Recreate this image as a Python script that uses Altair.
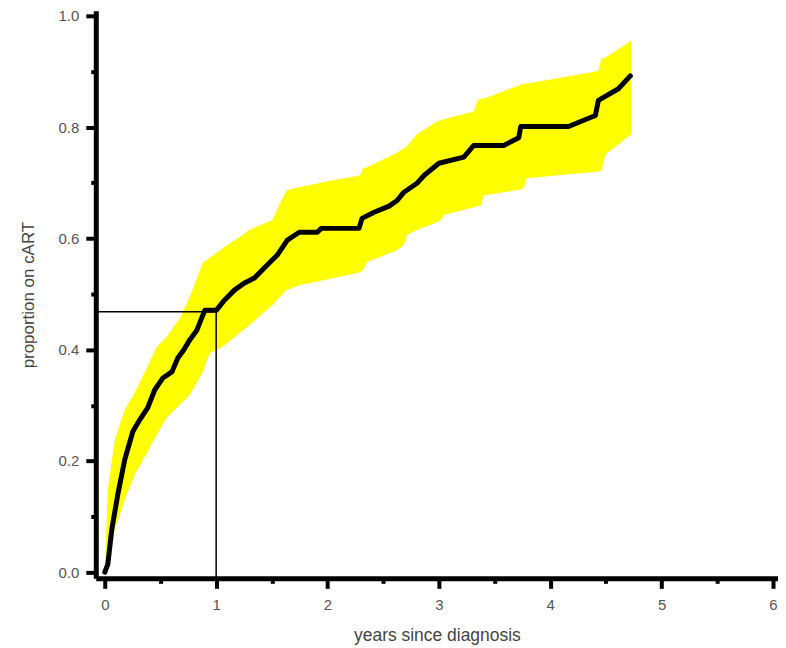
import altair as alt
import pandas as pd

# Kaplan-Meier style cumulative proportion on cART
curve_x = [0, 0.027, 0.063, 0.117, 0.18, 0.252, 0.314, 0.386, 0.449, 0.521, 0.602, 0.656,
           0.71, 0.764, 0.827, 0.898, 1.003, 1.074, 1.164, 1.254, 1.344, 1.459, 1.549,
           1.639, 1.746, 1.908, 1.944, 2.283, 2.31, 2.418, 2.553, 2.624, 2.686, 2.803,
           2.866, 3.0, 3.224, 3.313, 3.582, 3.717, 3.735, 4.164, 4.405, 4.432, 4.612, 4.719]
curve_y = [0, 0.014, 0.077, 0.14, 0.203, 0.253, 0.274, 0.296, 0.328, 0.349, 0.36, 0.385,
           0.40, 0.418, 0.435, 0.471, 0.471, 0.489, 0.507, 0.52, 0.529, 0.552, 0.57,
           0.597, 0.611, 0.611, 0.618, 0.618, 0.636, 0.647, 0.658, 0.668, 0.683, 0.699,
           0.713, 0.735, 0.746, 0.767, 0.767, 0.781, 0.801, 0.801, 0.821, 0.848, 0.869, 0.892]

# confidence band
band_x = [0, 0.027, 0.09, 0.18, 0.27, 0.36, 0.467, 0.557, 0.674, 0.764, 0.88, 0.943,
          1.056, 1.209, 1.299, 1.504, 1.630, 1.746, 2.015, 2.292, 2.319, 2.355, 2.624,
          2.686, 2.713, 2.803, 2.982, 3.018, 3.045, 3.313, 3.349, 3.376, 3.403, 3.735,
          3.761, 3.788, 4.432, 4.459, 4.495, 4.728]
band_upper = [0, 0.149, 0.238, 0.292, 0.323, 0.360, 0.405, 0.423, 0.457, 0.495, 0.556, 0.565,
              0.582, 0.602, 0.615, 0.633, 0.686, 0.692, 0.703, 0.713, 0.726, 0.728, 0.754,
              0.762, 0.765, 0.787, 0.810, 0.812, 0.814, 0.828, 0.849, 0.851, 0.851, 0.876,
              0.878, 0.878, 0.901, 0.923, 0.925, 0.955]
band_lower = [0, 0.036, 0.077, 0.131, 0.176, 0.208, 0.247, 0.278, 0.301, 0.319, 0.360, 0.394,
              0.405, 0.430, 0.444, 0.480, 0.507, 0.516, 0.527, 0.539, 0.543, 0.557, 0.579,
              0.588, 0.606, 0.615, 0.629, 0.633, 0.642, 0.656, 0.658, 0.659, 0.677, 0.688,
              0.690, 0.708, 0.720, 0.722, 0.751, 0.787]

# reference: proportion at 1 year
ref_x = 1.0
ref_y = 0.468

x_major = [0, 1, 2, 3, 4, 5, 6]
x_minor = [0.5, 1.5, 2.5, 3.5, 4.5, 5.5]
y_major = [0, 0.2, 0.4, 0.6, 0.8, 1.0]
y_minor = [0.1, 0.3, 0.5, 0.7, 0.9]

X_MIN, X_MAX = -0.081, 6.045
Y_MIN, Y_MAX = -0.011, 1.009

curve_df = pd.DataFrame({"x": curve_x, "y": curve_y})
band_df = pd.DataFrame({"x": band_x, "lo": band_lower, "hi": band_upper})
ref_df = pd.DataFrame({"x": [X_MIN, ref_x, ref_x], "y": [ref_y, ref_y, Y_MIN], "o": [0, 1, 2]})

xs = alt.Scale(domain=[X_MIN, X_MAX], nice=False, zero=False)
ys = alt.Scale(domain=[Y_MIN, Y_MAX], nice=False, zero=False)

FONT = "Liberation Sans"

x_axis = alt.Axis(
    orient="bottom", values=x_major, grid=False, format="d",
    tickSize=10, tickWidth=4, tickColor="black", domainColor="black", domainWidth=5,
    labelFont=FONT, labelFontSize=15, labelColor="#555555", labelPadding=9,
    title="years since diagnosis", titleFont=FONT, titleFontSize=17.5,
    titleFontWeight="normal", titleColor="#444444", titlePadding=14,
)
y_axis = alt.Axis(
    orient="left", values=y_major, grid=False, format=".1f",
    tickSize=10, tickWidth=4, tickColor="black", domainColor="black", domainWidth=5,
    labelFont=FONT, labelFontSize=15, labelColor="#555555", labelPadding=7,
    title="proportion on cART", titleFont=FONT, titleFontSize=17,
    titleFontWeight="normal", titleColor="#444444", titlePadding=21,
)
x_minor_axis = alt.Axis(orient="bottom", values=x_minor, grid=False, labels=False,
                        domain=False, title=None, tickSize=5, tickWidth=4, tickColor="black")
y_minor_axis = alt.Axis(orient="left", values=y_minor, grid=False, labels=False,
                        domain=False, title=None, tickSize=5, tickWidth=4, tickColor="black")

band = alt.Chart(band_df).mark_area(color="#FFFF00", opacity=1, interpolate="linear").encode(
    x=alt.X("x:Q", scale=xs, axis=x_axis),
    y=alt.Y("lo:Q", scale=ys, axis=y_axis),
    y2="hi:Q",
)
minor = alt.Chart(band_df).mark_point(opacity=0).encode(
    x=alt.X("x:Q", scale=xs, axis=x_minor_axis),
    y=alt.Y("lo:Q", scale=ys, axis=y_minor_axis),
)
curve = alt.Chart(curve_df).mark_line(color="black", strokeWidth=5, strokeJoin="round",
                                      strokeCap="round").encode(
    x=alt.X("x:Q", scale=xs, axis=None),
    y=alt.Y("y:Q", scale=ys, axis=None),
)
ref = alt.Chart(ref_df).mark_line(color="black", strokeWidth=1.5).encode(
    x=alt.X("x:Q", scale=xs, axis=None),
    y=alt.Y("y:Q", scale=ys, axis=None),
    order="o:Q",
)

chart = alt.layer(band, minor, curve, ref).resolve_axis(
    x="independent", y="independent"
).properties(
    width=684, height=569,
    autosize=alt.AutoSizeParams(type="none"),
    padding={"left": 88, "top": 2, "right": 0, "bottom": 70},
).configure_view(stroke=None)

chart.save("out.html", embed_options={"renderer": "svg", "actions": False})
